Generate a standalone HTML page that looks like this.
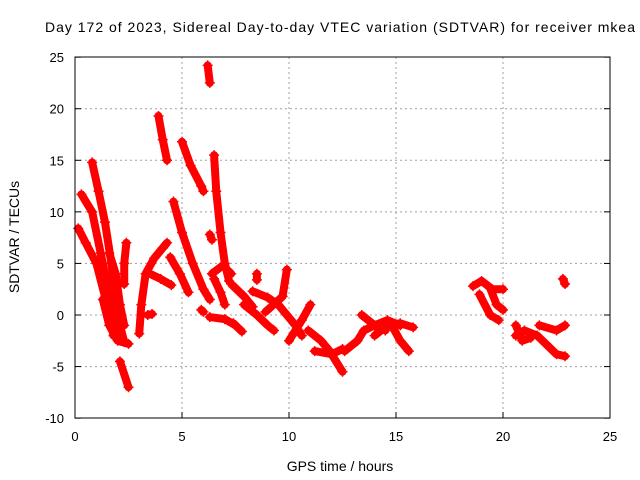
<!DOCTYPE html>
<html><head><meta charset="utf-8"><style>
body{margin:0;background:#fff}
svg{display:block;font-family:"Liberation Sans",sans-serif}
</style></head><body>
<svg id="chart" width="640" height="480">
<text x="340" y="32" font-size="14" text-anchor="middle" textLength="590">Day 172 of 2023, Sidereal Day-to-day VTEC variation (SDTVAR) for receiver mkea</text>
<text x="340" y="471" font-size="14" text-anchor="middle">GPS time / hours</text>
<text x="19" y="237" font-size="14" text-anchor="middle" transform="rotate(-90 19 237)">SDTVAR / TECUs</text>
<g id="grid"></g><g id="ticks"></g><g id="marks"></g>
<rect x="75" y="57" width="535" height="361" fill="none" stroke="#000" stroke-width="1"/>
</svg>
<script>
const xTicks=[0,5,10,15,20,25];
const yTicks=[-10,-5,0,5,10,15,20,25];
const tracks=[
[[0.15,8.4],[0.5,7],[1,5],[1.5,1],[1.8,-2],[2.2,-2.5]],
[[0.3,11.7],[0.8,10],[1.2,6],[1.5,3],[1.8,0],[2,-2]],
[[0.8,14.8],[1.1,12],[1.4,9],[1.7,5],[1.9,2],[2.1,-1],[2.3,-2.6]],
[[1.3,1.5],[1.6,-1],[2,-2.5],[2.5,-2.8]],
[[1.6,6],[1.9,4],[2.1,1],[2.3,-1]],
[[2.4,7],[2.3,5],[2.3,3]],
[[2.1,-4.5],[2.5,-7]],
[[3,-1.8],[3.1,1],[3.3,4],[3.7,5.5],[4.1,6.5],[4.3,7]],
[[3.4,0],[3.6,0.1]],
[[3.4,4.1],[4,3.5],[4.5,2.9]],
[[3.9,19.3],[4.1,17],[4.3,15]],
[[5,16.8],[5.4,14.5],[5.9,12.5],[6,12]],
[[4.6,11],[5,8],[5.5,5],[6,2.5],[6.3,1.5]],
[[4.45,5.6],[4.9,4],[5.3,2.2]],
[[6.5,15.5],[6.6,12],[6.8,8],[7,5],[7.2,3.3]],
[[6.2,24.2],[6.3,22.5]],
[[6.3,7.8],[6.4,7.3]],
[[6.5,3.5],[6.8,2.2],[7,1]],
[[6.4,4],[6.9,4.8],[7.3,4]],
[[5.9,0.5],[6,0.3]],
[[6.3,-0.2],[7,-0.4],[7.5,-1]],
[[7.3,3],[7.9,1.8],[8.3,0.8]],
[[8.5,4],[8.5,3.4]],
[[7.4,-0.8],[7.8,-1.6]],
[[7.9,1],[8.5,0],[9,-1],[9.3,-1.5]],
[[8.3,2.3],[9,1.7],[9.5,1],[10.3,-1],[10.6,-2]],
[[9.9,4.4],[9.7,1.8],[8.9,0.3]],
[[10,-2.5],[10.6,-0.5],[11,1]],
[[10.9,-1.5],[11.5,-2.5],[11.9,-3.5],[12.5,-5.5]],
[[11.2,-3.5],[12,-3.8],[12.5,-3.3]],
[[12.6,-3.5],[13.2,-2.5],[13.5,-1.5],[14,-1],[14.6,-0.5],[15.2,-1]],
[[13.4,0],[14,-1],[14.5,-1.5]],
[[14.8,-1],[15.2,-2.5],[15.6,-3.5]],
[[14,-2],[14.6,-1],[15.2,-0.8],[15.8,-1.2]],
[[18.6,2.8],[19,3.3],[19.5,2.5],[20,2.5]],
[[18.9,2],[19.4,0],[19.8,-0.5]],
[[19.4,2.6],[19.7,1],[20,0.5]],
[[20.6,-2],[21,-1.5],[21.6,-2],[22,-2.8],[22.5,-3.8],[22.9,-4]],
[[21.7,-1],[22.5,-1.5],[22.9,-1]],
[[20.6,-1],[20.9,-2.5],[21.3,-2.2]],
[[22.8,3.5],[22.9,3]]
];
const X=v=>75+v*21.4, Y=v=>315-v*10.314;
const NS="http://www.w3.org/2000/svg";
const grid=document.getElementById('grid'),ticks=document.getElementById('ticks'),marks=document.getElementById('marks');
function mk(t,a,p){const e=document.createElementNS(NS,t);for(const k in a)e.setAttribute(k,a[k]);p.appendChild(e);return e;}
xTicks.forEach(t=>{
 if(t>0&&t<25){const g=mk('line',{x1:X(t),x2:X(t),y1:57,y2:418,stroke:'#a0a0a0','stroke-dasharray':'2,3'},grid);
 
 }
 mk('line',{x1:X(t),x2:X(t),y1:418,y2:412,stroke:'#000'},ticks);
 const l=mk('text',{x:X(t),y:441,'font-size':13,'text-anchor':'middle'},ticks);l.textContent=t;
 
 
});
yTicks.forEach(t=>{
 if(t>-10&&t<25){const g=mk('line',{x1:75,x2:610,y1:Y(t),y2:Y(t),stroke:'#a0a0a0','stroke-dasharray':'2,3'},grid);
 
 }
 mk('line',{x1:75,x2:81,y1:Y(t),y2:Y(t),stroke:'#000'},ticks);
 mk('line',{x1:604,x2:610,y1:Y(t),y2:Y(t),stroke:'#000'},ticks);
 const l=mk('text',{x:64,y:Y(t)+5,'font-size':13,'text-anchor':'end'},ticks);l.textContent=t;
 
 
});
tracks.forEach(tr=>{
 const pl=mk('polyline',{points:tr.map(p=>X(p[0])+','+Y(p[1])).join(' '),fill:'none',stroke:'#ff0000','stroke-width':8,'stroke-linejoin':'round','stroke-linecap':'round'},marks);
 
 
 tr.forEach(p=>{
  const m=mk('path',{d:`M${X(p[0])-5},${Y(p[1])}h10M${X(p[0])},${Y(p[1])-5}v10`,stroke:'#ff0000','stroke-width':1.5},marks);
  
  
 });
});
</script>
</body></html>
